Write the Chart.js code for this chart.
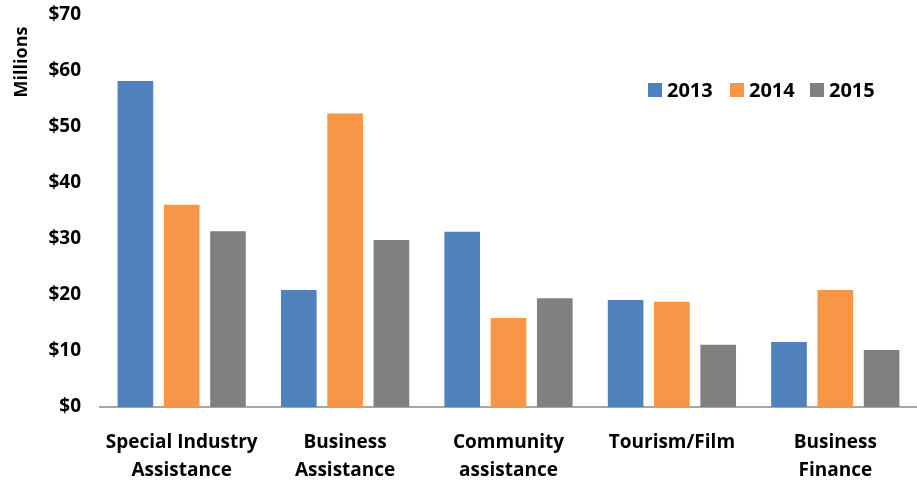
<html>
<head><title>Spending by program</title></head>
<body style="margin:0;background:white">
<div style="width:917px;height:481px">
	<canvas id="myChart"></canvas>
</div>
<script src="https://cdn.jsdelivr.net/npm/chart.js@4.4.0/dist/chart.umd.min.js"></script>
<script>

const categories = [
    ['Special Industry', 'Assistance'],
    ['Business', 'Assistance'],
    ['Community', 'assistance'],
    'Tourism/Film',
    ['Business', 'Finance']
];
const years = ['2013', '2014', '2015'];
const values2013 = [58.2, 20.9, 31.3, 19.1, 11.6];
const values2014 = [36.1, 52.4, 15.9, 18.8, 20.9];
const values2015 = [31.4, 29.8, 19.4, 11.1, 10.2];
const yTicks = [0, 10, 20, 30, 40, 50, 60, 70];
const colors = ['#4f81bd', '#f79646', '#808080'];
const unitLabel = 'Millions';

const fontFamily = '"Open Sans", Lato, sans-serif';

// legend drawn inside the plot, upper right, plus the unit label near the top of the y axis
const insideLegend = {
    id: 'insideLegend',
    afterDraw(chart) {
        const ctx = chart.ctx;
        const xs = [648, 730, 810];
        const y = 90;
        ctx.save();
        ctx.font = 'bold 20px ' + fontFamily;
        ctx.textBaseline = 'middle';
        chart.data.datasets.forEach(function(ds, i) {
            ctx.fillStyle = ds.backgroundColor;
            ctx.fillRect(xs[i], y - 7, 14, 14);
            ctx.fillStyle = '#000';
            ctx.fillText(ds.label, xs[i] + 19, y + 1);
        });

        ctx.translate(22, 62);
        ctx.rotate(-Math.PI / 2);
        ctx.font = 'bold 18px ' + fontFamily;
        ctx.textAlign = 'center';
        ctx.fillText(unitLabel, 0, 0);
        ctx.restore();
    }
};

const data = {
    labels: categories,
    datasets: [
        { label: years[0], data: values2013, backgroundColor: colors[0] },
        { label: years[1], data: values2014, backgroundColor: colors[1] },
        { label: years[2], data: values2015, backgroundColor: colors[2] }
    ]
};

const config = {
    type: 'bar',
    data,
    options: {
        responsive: true,
        maintainAspectRatio: false,
        animation: false,
        layout: { padding: { top: 15, right: 0, left: 0, bottom: 0 } },
        datasets: {
            bar: { categoryPercentage: 0.85, barPercentage: 0.77 }
        },
        plugins: {
            legend: { display: false },
            tooltip: { enabled: false }
        },
        scales: {
            x: {
                grid: { display: false },
                border: { display: true, color: '#a6a6a6', width: 2 },
                ticks: {
                    color: '#000',
                    font: { family: fontFamily, size: 19, weight: 'bold', lineHeight: 1.47 },
                    maxRotation: 0,
                    padding: 14
                },
                afterFit(scale) {
                    scale.height = 74;
                    scale.paddingLeft = 0;
                    scale.paddingRight = 0;
                }
            },
            y: {
                min: 0,
                max: 70,
                grid: { display: false },
                border: { display: false },
                afterBuildTicks(scale) {
                    scale.ticks = yTicks.map(function(v) { return { value: v }; });
                },
                ticks: {
                    color: '#000',
                    font: { family: fontFamily, size: 19, weight: 'bold' },
                    padding: 11,
                    callback: function(v) { return '$' + v; }
                },
                afterFit(scale) {
                    scale.width = 100;
                    scale.paddingTop = 0;
                    scale.paddingBottom = 0;
                }
            }
        }
    },
    plugins: [insideLegend]
};

const myChart = new Chart(document.getElementById('myChart'), config);

</script>
</body></html>
